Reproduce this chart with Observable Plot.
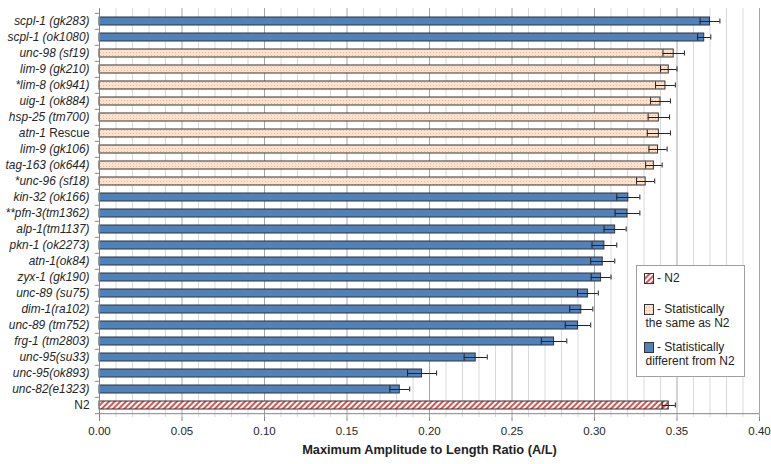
<!DOCTYPE html>
<html><head><meta charset="utf-8">
<script src="https://cdn.jsdelivr.net/npm/d3@7"></script>
<script src="https://cdn.jsdelivr.net/npm/@observablehq/plot@0.6"></script>
<style>body{margin:0;background:#fff;} svg{display:block}</style>
</head><body><div id="chart"></div>
<script>
const strains = ["scpl-1 (gk283)","scpl-1 (ok1080)","unc-98 (sf19)","lim-9 (gk210)","*lim-8 (ok941)","uig-1 (ok884)","hsp-25 (tm700)","atn-1 Rescue","lim-9 (gk106)","tag-163 (ok644)","*unc-96 (sf18)","kin-32 (ok166)","**pfn-3(tm1362)","alp-1(tm1137)","pkn-1 (ok2273)","atn-1(ok84)","zyx-1 (gk190)","unc-89 (su75)","dim-1(ra102)","unc-89 (tm752)","frg-1 (tm2803)","unc-95(su33)","unc-95(ok893)","unc-82(e1323)","N2"];
const ratios = [0.370,0.3665,0.348,0.345,0.343,0.340,0.339,0.339,0.3385,0.336,0.331,0.3205,0.320,0.3125,0.306,0.305,0.304,0.296,0.292,0.290,0.2755,0.228,0.1955,0.182,0.345];
const errors = [0.006,0.004,0.0065,0.005,0.006,0.006,0.0065,0.007,0.0055,0.005,0.0055,0.007,0.0075,0.0067,0.0075,0.0073,0.006,0.0063,0.007,0.0077,0.0077,0.007,0.0088,0.006,0.004];
const groups = ["diff","diff","same","same","same","same","same","same","same","same","same","diff","diff","diff","diff","diff","diff","diff","diff","diff","diff","diff","diff","diff","n2"];
const xTicks = [0,0.05,0.10,0.15,0.20,0.25,0.30,0.35,0.40];
const minorTicks = [0.01,0.02,0.03,0.04,0.06,0.07,0.08,0.09,0.11,0.12,0.13,0.14,0.16,0.17,0.18,0.19,0.21,0.22,0.23,0.24,0.26,0.27,0.28,0.29,0.31,0.32,0.33,0.34,0.36,0.37,0.38,0.39];
const axisTitle = "Maximum Amplitude to Length Ratio (A/L)";
const legendGroups = ["n2","same","diff"];
const legendLabels = [["- N2"],["- Statistically","the same as N2"],["- Statistically","different from N2"]];

const data = strains.map((s,i)=>({strain:s, ratio:ratios[i], err:errors[i], group:groups[i], lo:ratios[i]-errors[i], hi:ratios[i]+errors[i]}));
const fills = {diff:"#4f81bd", same:"url(#peach)", n2:"url(#hatch)"};
const W=771,H=464,mT=8,mB=47,mL=99,mR=12;
const step=(H-mT-mB)/strains.length;
const last=strains[strains.length-1];
const axisGray="#868686";

const plot = Plot.plot({
  width:W,height:H,marginTop:mT,marginBottom:mB,marginLeft:mL,marginRight:mR,
  style:{fontFamily:"'Liberation Sans', Arial, sans-serif", background:"#fff", color:"#262626"},
  x:{domain:[0,0.4]},
  y:{domain:strains, paddingInner:0.5, paddingOuter:0.25},
  marks:[
    Plot.gridX(minorTicks,{stroke:"#d9d9d9",strokeOpacity:1}),
    Plot.gridX(xTicks,{stroke:"#a6a6a6",strokeOpacity:1}),
    ...["diff","same","n2"].map(g=>Plot.barX(data.filter(d=>d.group===g),{x:"ratio",y:"strain",fill:fills[g],stroke:"#333",strokeWidth:1})),
    Plot.ruleY(data,{y:"strain",x1:"lo",x2:"hi",stroke:"#222",strokeWidth:1}),
    Plot.tickX(data,{x:"lo",y:"strain",stroke:"#222",insetTop:0.5,insetBottom:0.5}),
    Plot.tickX(data,{x:"hi",y:"strain",stroke:"#222",insetTop:1.5,insetBottom:1.5}),
    Plot.ruleX([0],{stroke:axisGray}),
    Plot.ruleY([last],{x1:0,x2:0.4,dy:step/2,stroke:axisGray}),
    Plot.ruleY(strains,{x1:-0.0025,x2:0,dy:-step/2,stroke:axisGray}),
    Plot.ruleY([last],{x1:-0.0025,x2:0,dy:step/2,stroke:axisGray}),
    Plot.axisX(xTicks,{tickSize:4,tickPadding:5,tickFormat:".2f",fontSize:11.5,label:null,stroke:axisGray}),
    Plot.axisY({tickSize:0,tickPadding:10,fontSize:11.9,fontStyle:"italic",label:null}),
    Plot.text([axisTitle],{frameAnchor:"bottom",dy:36,fontWeight:"bold",fontSize:12.8,fill:"#222"})
  ]
});
document.getElementById("chart").appendChild(plot);

const svg=d3.select(plot);
const defs=svg.insert("defs",":first-child");
const peach=defs.append("pattern").attr("id","peach").attr("patternUnits","userSpaceOnUse").attr("width",3).attr("height",3);
peach.append("rect").attr("width",3).attr("height",3).attr("fill","#fde3cd");
peach.append("rect").attr("x",1).attr("y",1).attr("width",1).attr("height",1).attr("fill","#f2b894");
const hatch=defs.append("pattern").attr("id","hatch").attr("patternUnits","userSpaceOnUse").attr("width",4).attr("height",4).attr("patternTransform","rotate(45)");
hatch.append("rect").attr("width",4).attr("height",4).attr("fill","#fff");
hatch.append("rect").attr("width",2).attr("height",4).attr("fill","#d9534f");

// mixed styles in category labels
svg.selectAll('g[aria-label="y-axis tick label"] text').each(function(){
  const t=d3.select(this); const s=t.text();
  if(s==="N2"){t.style("font-style","normal");}
  else if(s.endsWith(" Rescue")){
    t.text("");
    t.append("tspan").style("font-style","italic").text(s.replace(" Rescue"," "));
    t.append("tspan").style("font-style","normal").text("Rescue");
  }
});

// legend
const lg=svg.append("g").attr("font-family","'Liberation Sans', Arial, sans-serif").attr("font-size",12).attr("fill","#222").attr("text-anchor","start");
lg.append("rect").attr("x",636.5).attr("y",265.5).attr("width",108).attr("height",111).attr("fill","#fff").attr("stroke","#a0a0a0");
const rows=[{sy:273,ty:[282]},{sy:304,ty:[313,327]},{sy:342,ty:[351,365]}];
legendGroups.forEach((g,i)=>{
  const r=rows[i];
  lg.append("rect").attr("x",644.5).attr("y",r.sy+0.5).attr("width",9).attr("height",10).attr("fill",fills[g]).attr("stroke","#333");
  legendLabels[i].forEach((txt,j)=>{
    lg.append("text").attr("x",j===0?657:645.5).attr("y",r.ty[j]).attr("text-anchor","start").text(txt);
  });
});
</script>
</body></html>
